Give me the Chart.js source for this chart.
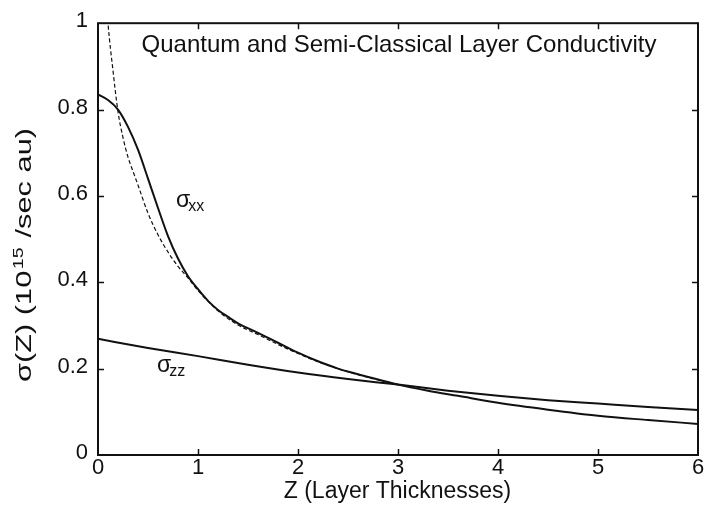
<!DOCTYPE html>
<html><head><meta charset="utf-8">
<script src="https://cdn.jsdelivr.net/npm/chart.js@4.4.0/dist/chart.umd.min.js"></script>
<style>html,body{margin:0;padding:0;background:#fff}</style>
</head><body>
<canvas id="c" width="705" height="508"></canvas>
<script>
// ---- data ----
const zXX = [0,0.1,0.2,0.3,0.4,0.5,0.6,0.7,0.8,0.9,1.0,1.1,1.2,1.3,1.4,1.6,1.8,2.0,2.2,2.4,2.6,2.8,3.0,3.3,3.6,4.0,4.5,5.0,5.5,6.0];
const sigmaXX = [0.835,0.822,0.80,0.76,0.707,0.64,0.572,0.507,0.455,0.414,0.384,0.357,0.336,0.32,0.305,0.283,0.26,0.237,0.217,0.2,0.187,0.175,0.163,0.149,0.137,0.121,0.105,0.091,0.081,0.072];
const zDash = [0.08,0.1,0.15,0.2,0.25,0.3,0.35,0.4,0.5,0.6,0.7,0.8,0.9,1.0,1.2,1.4,1.6,1.8,2.0,2.2,2.4,2.6,2.8,3.0];
const sigmaDash = [1.07,1.0,0.89,0.795,0.735,0.69,0.657,0.625,0.56,0.51,0.47,0.437,0.41,0.381,0.334,0.301,0.279,0.256,0.235,0.216,0.2,0.186,0.174,0.163];
const zZZ = [0,0.5,1,1.5,2,2.5,3,3.5,4,4.5,5,5.5,6];
const sigmaZZ = [0.269,0.248,0.229,0.209,0.191,0.176,0.163,0.149,0.137,0.127,0.119,0.111,0.104];
const xTickValues = [0,1,2,3,4,5,6];
const yTickValues = [0,0.2,0.4,0.6,0.8,1];
const titleText = 'Quantum and Semi-Classical Layer Conductivity';
const xTitle = 'Z (Layer Thicknesses)';
const yTitleParts = ['σ(Z) (10', '15', ' /sec au)'];
const labelXX = ['σ', 'xx', 0.78, 0.575];
const labelZZ = ['σ', 'zz', 0.59, 0.193];

const FONT = "'Liberation Sans', Arial, Helvetica, sans-serif";
const pts = (xs, ys) => xs.map((x, i) => ({x, y: ys[i]}));

const decor = {
  id: 'decor',
  afterDraw(chart) {
    const {ctx, chartArea: a, scales: {x, y}} = chart;
    ctx.save();
    ctx.strokeStyle = '#111';
    ctx.lineWidth = 2;
    ctx.strokeRect(a.left, a.top, a.right - a.left, a.bottom - a.top);
    ctx.lineWidth = 1.5;
    ctx.beginPath();
    xTickValues.slice(1, -1).forEach(v => {
      const px = Math.round(x.getPixelForValue(v)) + 0.5;
      ctx.moveTo(px, a.bottom); ctx.lineTo(px, a.bottom - 6);
      ctx.moveTo(px, a.top); ctx.lineTo(px, a.top + 6);
    });
    yTickValues.slice(1, -1).forEach(v => {
      const py = Math.round(y.getPixelForValue(v)) + 0.5;
      ctx.moveTo(a.left, py); ctx.lineTo(a.left + 6, py);
      ctx.moveTo(a.right, py); ctx.lineTo(a.right - 6, py);
    });
    ctx.stroke();

    ctx.fillStyle = '#111';
    ctx.textBaseline = 'alphabetic';
    ctx.textAlign = 'center';
    // in-plot title
    ctx.font = '24px ' + FONT;
    ctx.fillText(titleText, 399, 52);
    // x-axis title
    ctx.font = '23px ' + FONT;
    ctx.fillText(xTitle, 397.5, 498);
    // curve labels
    ctx.textAlign = 'left';
    [labelXX, labelZZ].forEach(([s, sub, vx, vy]) => {
      const px = x.getPixelForValue(vx), py = y.getPixelForValue(vy);
      ctx.font = '23px ' + FONT;
      ctx.fillText(s, px, py);
      const w = ctx.measureText(s).width;
      ctx.font = '16px ' + FONT;
      ctx.fillText(sub, px + w - 2, py + 4);
    });
    // y-axis title (rotated, with superscript)
    ctx.font = '22px ' + FONT;
    const w0 = ctx.measureText(yTitleParts[0]).width;
    const w2 = ctx.measureText(yTitleParts[2]).width;
    ctx.font = '14px ' + FONT;
    const w1 = ctx.measureText(yTitleParts[1]).width + 2;
    const sx = 254 / (w0 + w1 + w2);
    ctx.translate(31, 382);
    ctx.rotate(-Math.PI / 2);
    ctx.scale(sx, 1);
    ctx.font = '22px ' + FONT;
    ctx.fillText(yTitleParts[0], 0, 0);
    ctx.font = '14px ' + FONT;
    ctx.fillText(yTitleParts[1], w0 + 1, -8);
    ctx.font = '22px ' + FONT;
    ctx.fillText(yTitleParts[2], w0 + w1, 0);
    ctx.restore();
  }
};

new Chart(document.getElementById('c'), {
  type: 'scatter',
  data: {
    datasets: [
      {data: pts(zDash, sigmaDash), showLine: true, borderColor: '#111', borderWidth: 1.2, borderDash: [4, 2.5], pointRadius: 0, cubicInterpolationMode: 'monotone'},
      {data: pts(zXX, sigmaXX), showLine: true, borderColor: '#111', borderWidth: 2, pointRadius: 0, cubicInterpolationMode: 'monotone'},
      {data: pts(zZZ, sigmaZZ), showLine: true, borderColor: '#111', borderWidth: 2, pointRadius: 0, cubicInterpolationMode: 'monotone'}
    ]
  },
  options: {
    responsive: false,
    animation: false,
    devicePixelRatio: 1,
    layout: {padding: {left: 0, right: 7, top: 15, bottom: 0}},
    plugins: {legend: {display: false}, tooltip: {enabled: false}},
    scales: {
      x: {
        type: 'linear', min: 0, max: 6,
        afterBuildTicks: s => { s.ticks = xTickValues.map(v => ({value: v})); },
        afterFit: s => { s.height = 53; },
        grid: {display: false, drawTicks: false},
        border: {display: false},
        ticks: {color: '#111', font: {size: 22, family: FONT}, padding: 0, maxRotation: 0, callback: v => String(v)}
      },
      y: {
        type: 'linear', min: 0, max: 1,
        afterBuildTicks: s => { s.ticks = yTickValues.map(v => ({value: v})); },
        afterFit: s => { s.width = 98; },
        grid: {display: false, drawTicks: false},
        border: {display: false},
        ticks: {color: '#111', font: {size: 22, family: FONT}, padding: 10, labelOffset: -2, callback: v => String(+v.toFixed(1))}
      }
    }
  },
  plugins: [decor]
});
</script>
</body></html>
